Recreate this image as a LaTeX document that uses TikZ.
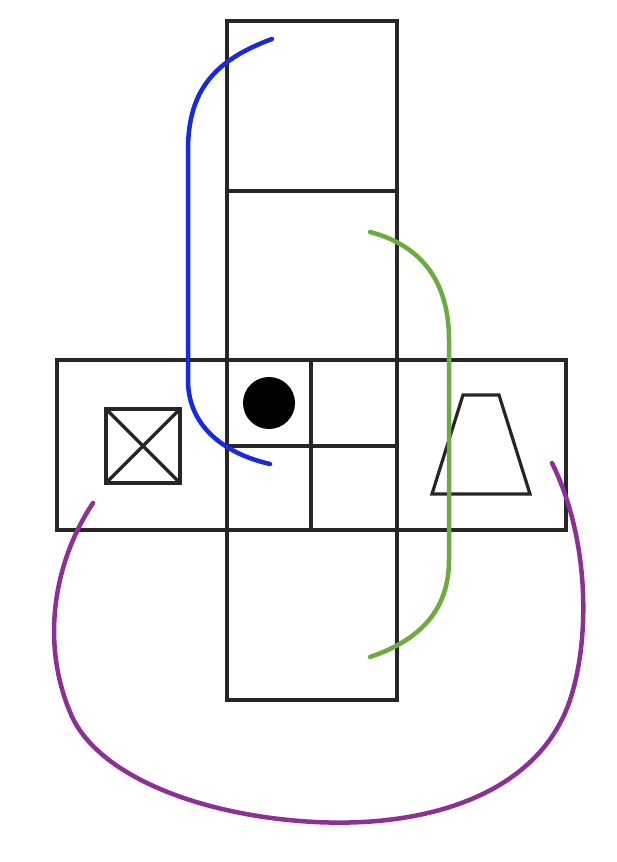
\documentclass[tikz,border=0pt]{standalone}
\usepackage{xcolor}
\usepackage{tikz}

\definecolor{curveblue}{RGB}{22,42,228}
\definecolor{curvegreen}{RGB}{108,172,62}
\definecolor{curvepurple}{RGB}{140,48,150}

\begin{document}
\begin{tikzpicture}[x=1pt,y=-1pt,
		wall/.style={line width=3.2pt,black!85},
		loop/.style={line width=4.5pt,line cap=round}]
		\useasboundingbox (0,0) rectangle (616,862);

		\draw[wall] (227,21) rectangle (397,700);
		\draw[wall] (227,191) -- (397,191);
		\draw[wall] (57,360) rectangle (566,530);
		\draw[wall] (227,360) -- (227,530);
		\draw[wall] (397,360) -- (397,530);
		\draw[wall] (311,360) -- (311,530);
		\draw[wall] (227,446) -- (397,446);

		\fill (269,403) circle (26);

		\draw[wall] (106,409) rectangle (180,483);
		\draw[wall] (106,409) -- (180,483);
		\draw[wall] (180,409) -- (106,483);

		\draw[wall] (463,395) -- (499,395) -- (530,494) -- (432,494) -- cycle;

		\coordinate (b1) at (272,39);
		\coordinate (b2) at (270,464);
		\coordinate (g1) at (370,232);
		\coordinate (g2) at (370,657);
		\coordinate (p1) at (93,503);
		\coordinate (p2) at (552,463);

		\draw[loop,curveblue] (b1) .. controls (215,60) and (188,90) .. (188,150)
			-- (188,380) .. controls (188,430) and (230,455) .. (b2);
		\draw[loop,curvegreen] (g1) .. controls (420,245) and (449,280) .. (449,340)
			-- (449,560) .. controls (449,610) and (420,640) .. (g2);
		\draw[loop,curvepurple] (p1) .. controls (55,560) and (40,640) .. (70,712)
			.. controls (95,775) and (200,816) .. (315,822)
			.. controls (435,828) and (540,790) .. (570,700)
			.. controls (590,640) and (590,540) .. (p2);

\end{tikzpicture}
\end{document}
